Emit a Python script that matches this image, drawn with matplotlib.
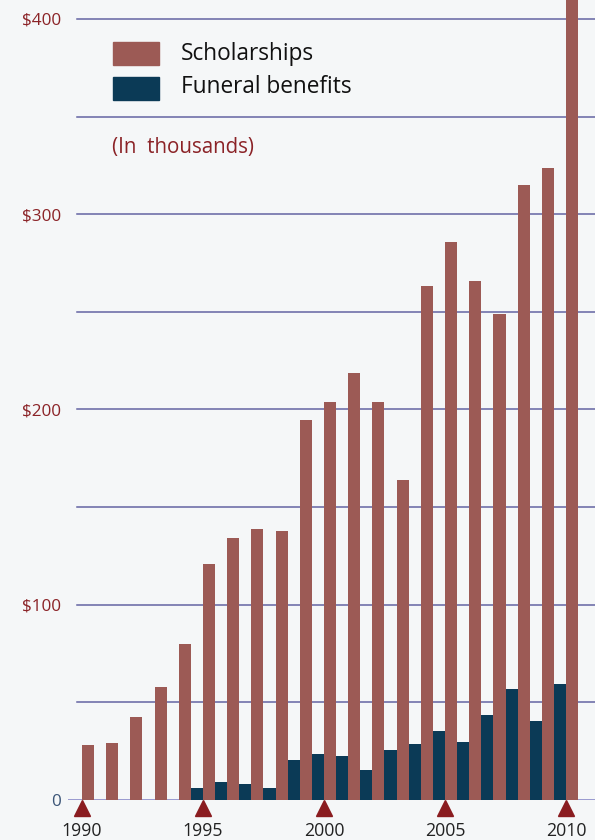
import matplotlib
matplotlib.use('Agg')
import matplotlib.pyplot as plt
from matplotlib.patches import Rectangle

# --- data (in thousands of dollars) ---
years = list(range(1990, 2011))
scholarships = [28, 29, 42.5, 58, 80, 121, 134, 139, 138, 194.5, 204,
                218.5, 204, 164, 263, 286, 266, 249, 315, 323.5, 430]
funeral = [0, 0, 0, 0, 0, 6, 9.2, 8.2, 6.1, 20.5, 23.5,
           22.5, 15.4, 25.6, 28.7, 35.3, 29.7, 43.5, 56.8, 40.4, 59.4]
marked_years = [1990, 1995, 2000, 2005, 2010]
ytick_vals = [0, 100, 200, 300, 400]
ytick_labels = ['0', '$100', '$200', '$300', '$400']

RED = '#9c5a55'
NAVY = '#0b3a56'
DARKRED = '#8a1c20'
GRID = '#6464a2'

plt.rcParams['font.family'] = ['Open Sans', 'DejaVu Sans']

fig = plt.figure(figsize=(5.95, 8.4), dpi=100)
fig.patch.set_facecolor('#f5f7f8')

W, H = 595, 840
left_px, bottom_px = 68, 800
ax = fig.add_axes([left_px / W, (H - bottom_px) / H, 1 - left_px / W, bottom_px / H])
ax.set_facecolor('none')

px_per_year = 24.2
x0 = 1990 - (82 - left_px) / px_per_year
x1 = 1990 + (595 - 82) / px_per_year
ax.set_xlim(x0, x1)
ax.set_ylim(0, 409.7)

# gridlines every 50
frac = (77 - left_px) / (595 - left_px)
for g in range(50, 401, 50):
    ax.axhline(g, xmin=frac, xmax=1, color=GRID, lw=1.1, zorder=1)
ax.axhline(0, xmin=0, xmax=1, color='#8a8ac8', lw=1.2, zorder=1)

ax.bar(years, funeral, width=-0.5, align='edge', color=NAVY, zorder=2)
ax.bar(years, scholarships, width=0.5, align='edge', color=RED, zorder=2)

# triangles under the axis
ax.plot(marked_years, [-4.3] * len(marked_years), linestyle='none', marker='^',
        markersize=12, color=DARKRED, clip_on=False, zorder=3)

for s in ax.spines.values():
    s.set_visible(False)

ax.set_yticks(ytick_vals)
ax.set_yticklabels(ytick_labels)
ax.tick_params(axis='y', length=0, pad=5, labelsize=12.3)
for lbl in ax.get_yticklabels():
    lbl.set_color('#3b5577' if lbl.get_text() == '0' else '#8b2327')

ax.set_xticks(marked_years)
ax.set_xticklabels([str(y) for y in marked_years])
ax.tick_params(axis='x', length=0, pad=16, labelsize=12.8, labelcolor='#222222')

# legend drawn by hand
fig.patches.append(Rectangle((113 / W, 1 - 65 / H), 46 / W, 23 / H,
                             transform=fig.transFigure, color=RED))
fig.patches.append(Rectangle((113 / W, 1 - 100 / H), 46 / W, 23 / H,
                             transform=fig.transFigure, color=NAVY))
fig.text(181 / W, 1 - 54 / H, 'Scholarships', fontsize=16.3, color='#111111', va='center')
fig.text(181 / W, 1 - 87 / H, 'Funeral benefits', fontsize=16.3, color='#111111', va='center')
fig.text(112 / W, 1 - 147 / H, '(In  thousands)', fontsize=14.8, color='#8b2327', va='center')

fig.savefig('out.png', dpi=100, facecolor=fig.get_facecolor())
